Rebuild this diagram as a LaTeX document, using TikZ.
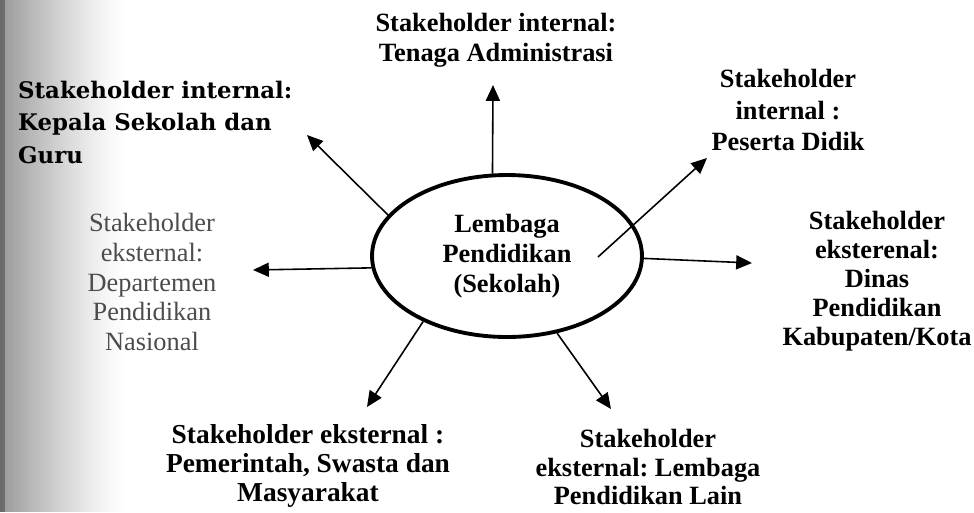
\documentclass[tikz,border=0pt]{standalone}
\usepackage{fontspec}
\setmainfont{Liberation Serif}
\newfontfamily\bookfont{DejaVu Serif}
\usetikzlibrary{shapes.geometric,arrows.meta}
\frenchspacing

\begin{document}
\begin{tikzpicture}[x=0.02cm,y=-0.02cm,
        arr/.style={-{Triangle[length=9pt,width=8pt]},line width=0.9pt},
        lbl/.style={align=center,font=\fontsize{15}{17}\selectfont\bfseries}]
        \useasboundingbox (0,0) rectangle (974,512);
        \fill[white] (0,0) rectangle (974,512);
        % scan shadow at the left edge
        \foreach \i [evaluate=\i as \c using {40*(1-\i/50)^1.3}] in {0,...,49}
        \fill[black!\c] (2.5*\i,0) rectangle (2.5*\i+2.6,512);
        \fill[black,opacity=0.3] (0,0) rectangle (5,512);
        % centre
        \node[ellipse,draw,line width=2.2pt,minimum width=5.4cm,minimum height=3.24cm,inner sep=0pt,lbl] (sekolah) at (507,256) {Lembaga\\Pendidikan\\(Sekolah)};
        % stakeholders
        \node[lbl] (tenaga) at (496,40) {Stakeholder internal:\\Tenaga Administrasi};
        \node[lbl,font=\fontsize{15}{18}\selectfont\bfseries] (peserta) at (788,110) {Stakeholder\\internal :\\Peserta Didik};
        \node[lbl,font=\fontsize{15}{16.5}\selectfont\bfseries] (dinas) at (877,281) {Stakeholder\\eksterenal:\\Dinas\\Pendidikan\\Kabupaten/Kota};
        \node[lbl,font=\fontsize{15}{16}\selectfont\bfseries] (lain) at (648,467) {Stakeholder\\eksternal: Lembaga\\Pendidikan Lain};
        \node[lbl,font=\fontsize{15.6}{16.5}\selectfont\bfseries] (pemerintah) at (308,466) {Stakeholder eksternal :\\Pemerintah, Swasta dan\\Masyarakat};
        \node[align=center,font=\fontsize{15}{17}\selectfont,text=black!70] (depdiknas) at (152,282) {Stakeholder\\eksternal:\\Departemen\\Pendidikan\\Nasional};
        \node[align=left,anchor=west,font=\fontsize{13}{18.5}\bookfont\bfseries] (kepala) at (12,122) {Stakeholder internal:\\Kepala Sekolah dan\\Guru};
        % arrow ends
        \coordinate (tTop) at (493,85);
        \coordinate (tKepala) at (307,135);
        \coordinate (tDepdiknas) at (253,270);
        \coordinate (tPemerintah) at (367,407);
        \coordinate (tLain) at (611,409);
        \coordinate (tDinas) at (752,263);
        \coordinate (tPeserta) at (707,158);
        \coordinate (sPeserta) at (598,257);
        \foreach \From/\To in {sekolah.100.5/tTop, sekolah.161.4/tKepala, sekolah.185/tDepdiknas,
                sekolah.218.4/tPemerintah, sekolah.303.9/tLain, sekolah.359/tDinas, sPeserta/tPeserta}
        \draw[arr] (\From) -- (\To);
\end{tikzpicture}
\end{document}
